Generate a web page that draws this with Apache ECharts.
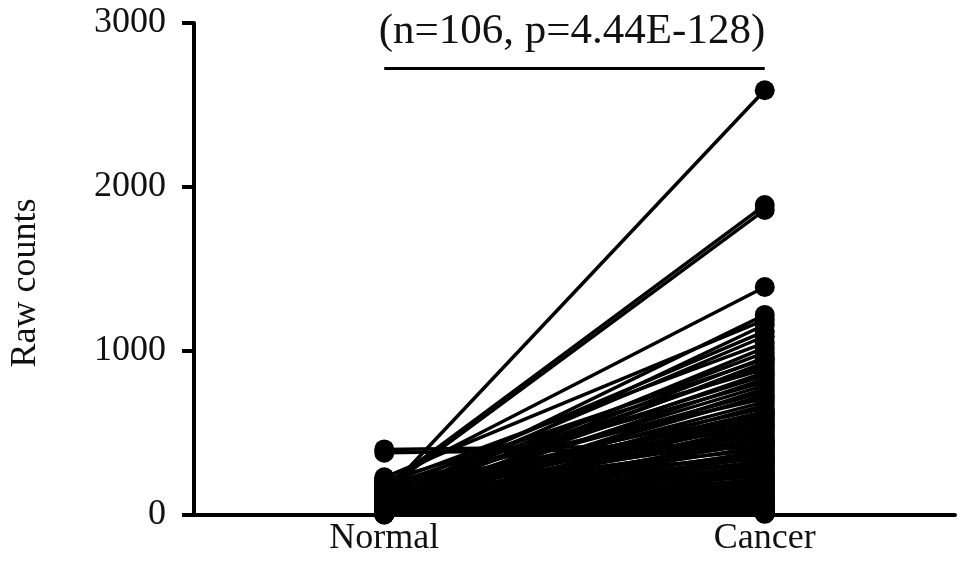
<!DOCTYPE html>
<html>
<head>
<meta charset="utf-8">
<script src="https://cdn.jsdelivr.net/npm/echarts@6/dist/echarts.min.js"></script>
<style>
  html, body { margin: 0; padding: 0; background: #fff; }
  #chart { width: 969px; height: 588px; }
</style>
</head>
<body>
<div id="chart"></div>
<script>
// groups on the x axis
const groups = ['Normal', 'Cancer'];

// paired samples, one entry per patient (n = 106)
const normalVals = [
  130, 170, 150, 200, 90, 230, 60, 140, 110, 190,
  65, 115, 80, 175, 45, 100, 210, 75, 130, 55,
  160, 95, 30, 120, 65, 185, 85, 40, 145, 105,
  70, 25, 155, 90, 50, 125, 35, 195, 60, 110,
  80, 20, 135, 70, 45, 100, 400, 55, 380, 160,
  30, 85, 115, 40, 65, 220, 25, 95, 50, 140,
  35, 75, 15, 60, 105, 30, 45, 170, 20, 80,
  55, 35, 125, 15, 65, 40, 90, 25, 50, 10,
  70, 30, 45, 20, 60, 15, 35, 10, 40, 25,
  5, 30, 15, 50, 10, 20, 5, 35, 12, 8,
  25, 4, 18, 6, 14, 3
];
const cancerVals = [
  2590, 1890, 1860, 1390, 1220, 1190, 1160, 1120, 1090, 1050,
  1020, 990, 960, 950, 930, 910, 890, 870, 850, 830,
  810, 790, 770, 750, 730, 710, 690, 670, 650, 630,
  625, 615, 600, 585, 570, 555, 545, 540, 525, 510,
  495, 480, 465, 455, 450, 440, 430, 420, 410, 400,
  390, 380, 370, 360, 350, 340, 330, 325, 320, 310,
  300, 290, 280, 270, 260, 250, 240, 230, 220, 212,
  204, 196, 188, 180, 172, 164, 156, 148, 140, 133,
  126, 119, 112, 105, 98, 92, 86, 80, 74, 68,
  62, 57, 52, 47, 42, 38, 34, 30, 27, 24,
  21, 18, 15, 12, 10, 7
];

const yTicks = [0, 1000, 2000, 3000];
const statText = '(n=106, p=4.44E-128)';
const barLevel = 2725; // height of the bracket under the stats text

const serif = "'Liberation Serif', 'Times New Roman', serif";
const ink = '#000';
const textInk = '#111';

const chart = echarts.init(document.getElementById('chart'), null, { renderer: 'canvas' });

const series = normalVals.map((n, i) => ({
  type: 'line',
  data: [n, cancerVals[i]],
  symbol: 'circle',
  symbolSize: 20,
  showSymbol: true,
  itemStyle: { color: ink },
  lineStyle: { color: ink, width: 3.5 },
  silent: true,
  z: 2
}));

// bracket under the stats text
series.push({
  type: 'line',
  data: [],
  silent: true,
  markLine: {
    symbol: 'none',
    silent: true,
    label: { show: false },
    lineStyle: { color: ink, width: 3, type: 'solid' },
    data: [[{ coord: [0, barLevel] }, { coord: [1, barLevel] }]]
  }
});

const option = {
  animation: false,
  backgroundColor: '#fff',
  title: {
    text: statText,
    left: 567,
    top: 5,
    textAlign: 'center',
    textStyle: { fontFamily: serif, fontSize: 43, fontWeight: 'normal', color: textInk }
  },
  grid: { left: 190, right: 14, top: 23, bottom: 73 },
  xAxis: {
    type: 'category',
    data: groups,
    boundaryGap: true,
    axisLine: { lineStyle: { color: ink, width: 4 } },
    axisTick: { alignWithLabel: true, length: 11, lineStyle: { color: ink, width: 4 } },
    axisLabel: { fontFamily: serif, fontSize: 36, color: textInk, margin: 6 },
    splitLine: { show: false }
  },
  yAxis: {
    type: 'value',
    min: yTicks[0],
    max: yTicks[yTicks.length - 1],
    interval: 1000,
    name: 'Raw counts',
    nameLocation: 'middle',
    nameRotate: 90,
    nameGap: 150,
    nameTextStyle: { fontFamily: serif, fontSize: 36, color: textInk, padding: [0, 0, 0, -28] },
    axisLine: { show: true, lineStyle: { color: ink, width: 4 } },
    axisTick: { show: true, length: 12, lineStyle: { color: ink, width: 4 } },
    axisLabel: {
      fontFamily: serif, fontSize: 36, color: textInk, margin: 28,
      formatter: v => String(v)
    },
    splitLine: { show: false }
  },
  series: series
};

chart.setOption(option);
</script>
</body>
</html>
